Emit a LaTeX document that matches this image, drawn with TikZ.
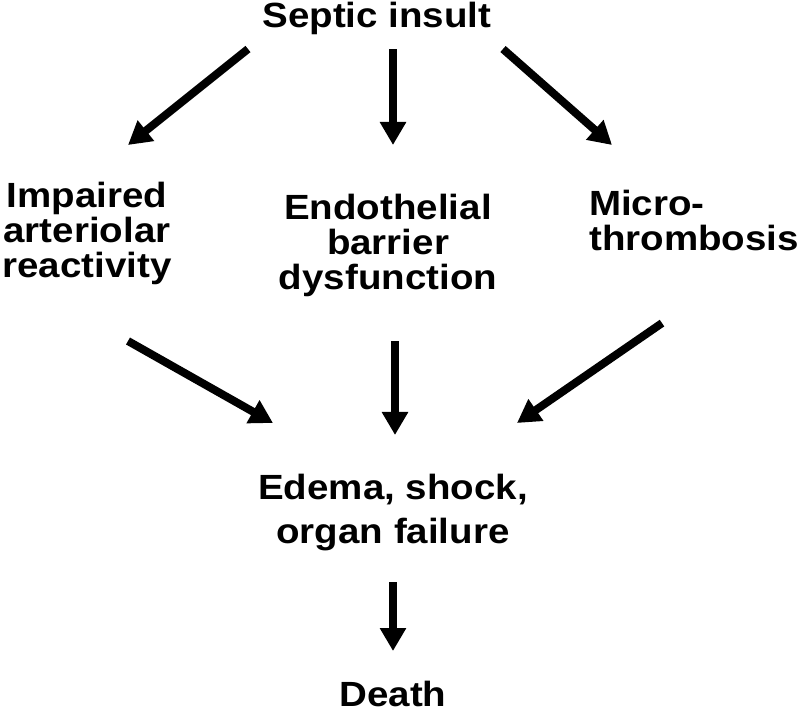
\documentclass[tikz,border=0pt]{standalone}
\usepackage{fontspec}
\setmainfont[FakeStretch=1.1]{Liberation Sans}
\usetikzlibrary{arrows.meta}

\begin{document}
\begin{tikzpicture}[
		x=1pt,y=1pt,
		stage/.style={
			font=\fontsize{35}{35}\selectfont\bfseries,
			inner sep=0pt,
			align=center,
			anchor=north
		},
		flow/.style={
			->,
			line width=8pt
		},
		>={Triangle[length=23pt,width=25pt]}
		]
		\useasboundingbox (0,0) rectangle (800,715);
		\node[stage] (septic) at (377,713) {Septic insult};
		\node[stage] (impaired) at (87,533) {Impaired\\arteriolar\\reactivity};
		\node[stage] (endo) at (388,521) {Endothelial\\barrier\\dysfunction};
		\node[stage,anchor=north west,align=left] (micro) at (589,525) {Micro-\\thrombosis};
		\node[stage,font=\fontsize{35}{44}\selectfont\bfseries] (edema) at (393,241) {Edema, shock,\\organ failure};
		\node[stage] (death) at (393,34) {Death};
		\draw[flow] ([shift={(-129,-14)}]septic.south) -- ([shift={(41,37)}]impaired.north);
		\draw[flow] ([shift={(16,-14)}]septic.south) -- ([shift={(5,49)}]endo.north);
		\draw[flow] ([shift={(126,-14)}]septic.south) -- ([shift={(23,45)}]micro.north west);
		\draw[flow] ([shift={(41,-56)}]impaired.south) -- ([shift={(-120,51)}]edema.north);
		\draw[flow] ([shift={(7,-44)}]endo.south) -- ([shift={(2,39)}]edema.north);
		\draw[flow] ([shift={(73,-72)}]micro.south west) -- ([shift={(124,51)}]edema.north);
		\draw[flow] ([shift={(0,-31)}]edema.south) -- ([shift={(0,30)}]death.north);
\end{tikzpicture}
\end{document}
